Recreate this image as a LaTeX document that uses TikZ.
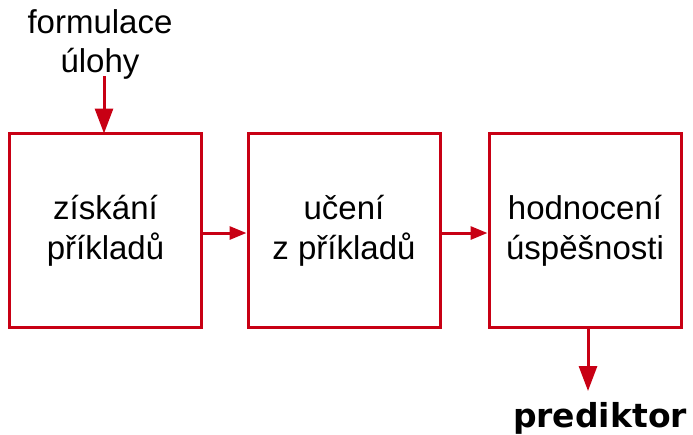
\documentclass[tikz,border=0pt]{standalone}
\usepackage{fontspec}
\setmainfont{Liberation Sans}
\newfontfamily\boldfont{DejaVu Sans}
\usetikzlibrary{arrows.meta}
\definecolor{boxred}{RGB}{200,0,20}
\begin{document}
\begin{tikzpicture}[x=1pt,y=-1pt,
  box/.style={draw=boxred,line width=3pt,minimum width=192pt,minimum height=194pt,inner sep=0pt,
    align=center,font=\fontsize{33}{40}\selectfont},
  conn/.style={draw=boxred,line width=3pt,-{Triangle[length=17pt,width=13pt]}},
  vconn/.style={draw=boxred,line width=3pt,-{Triangle[length=25pt,width=18pt]}},
  lbl/.style={align=center,inner sep=0pt,font=\fontsize{33}{39}\selectfont}]
\useasboundingbox (0,0) rectangle (693,434);
\node[box] (b1) at (105.5,230.5) {získání\\příkladů};
\node[box] (b2) at (344,230.5) {učení\\z příkladů};
\node[box] (b3) at (585,230.5) {hodnocení\\úspěšnosti};
\node[lbl,anchor=base] (top) at (100,72) {formulace\\úlohy};
\coordinate (tstart) at (104,76);
\coordinate (tend) at (104,133.5);
\draw[vconn] (tstart) -- (tend);
\draw[conn] (b1.east |- 0,233) -- (b2.west |- 0,233);
\draw[conn] (b2.east |- 0,233) -- (b3.west |- 0,233);
\coordinate (pend) at (588,391);
\draw[vconn] (b3.south -| pend) -- (pend);
\node[inner sep=0pt,anchor=base,font=\boldfont\bfseries\fontsize{33}{39}\selectfont] (pred) at (600,427) {prediktor};
\end{tikzpicture}
\end{document}
